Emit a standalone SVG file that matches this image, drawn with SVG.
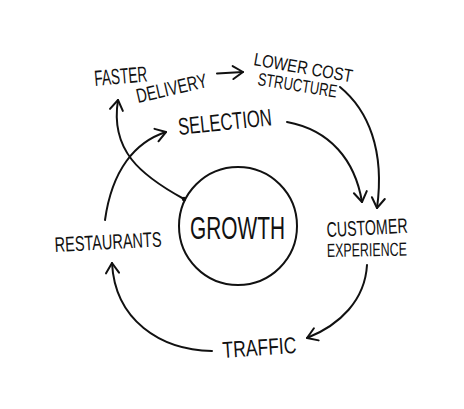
<svg xmlns="http://www.w3.org/2000/svg" width="464" height="409" viewBox="0 0 464 409">
<defs>
<style>
.lbl{font-family:"Liberation Sans",Arial,sans-serif;fill:#111;}
.c{fill:none;stroke:#111;stroke-width:2;stroke-linecap:round;}
</style>
<marker id="ah" viewBox="-12 -8 14 16" markerWidth="14" markerHeight="16" refX="0" refY="0" orient="auto" markerUnits="userSpaceOnUse">
<path d="M-10,-6.5 L0,0 L-10,6.5" fill="none" stroke="#111" stroke-width="2" stroke-linecap="round" stroke-linejoin="round"/>
</marker>
</defs>
<rect width="464" height="409" fill="#fff"/>
<g id="connectors">
<path class="c" d="M184,199 C140,175 110,150 118,100" marker-end="url(#ah)"/>
<circle cx="184" cy="199" r="2.2" fill="#111"/>
<path class="c" d="M105,220 C112,170 135,142 166,132" marker-end="url(#ah)"/>
<path class="c" d="M217,73.5 L243,72" marker-end="url(#ah)"/>
<path class="c" d="M287,122 C330,130 355,160 362,202" marker-end="url(#ah)"/>
<path class="c" d="M340,87 C368,110 385,150 377,208" marker-end="url(#ah)"/>
<path class="c" d="M367,265 C365,300 340,325 307,338" marker-end="url(#ah)"/>
<path class="c" d="M212,351 C160,350 115,320 112,263" marker-end="url(#ah)"/>
</g>
<g id="growth">
<circle cx="238" cy="226" r="59" fill="none" stroke="#111" stroke-width="2"/>
<text class="lbl" x="190" y="239" font-size="32" textLength="95" lengthAdjust="spacingAndGlyphs">GROWTH</text>
</g>
<g id="faster-delivery">
<text class="lbl" x="95" y="86" font-size="22" textLength="53" lengthAdjust="spacingAndGlyphs" transform="rotate(-5 95 86)">FASTER</text>
<text class="lbl" x="138" y="103" font-size="20" textLength="72" lengthAdjust="spacingAndGlyphs" transform="rotate(-13 138 103)">DELIVERY</text>
</g>
<g id="lower-cost">
<text class="lbl" x="253" y="65" font-size="18" textLength="100" lengthAdjust="spacingAndGlyphs" transform="rotate(10 253 65)">LOWER COST</text>
<text class="lbl" x="257" y="85" font-size="18" textLength="80" lengthAdjust="spacingAndGlyphs" transform="rotate(9 257 85)">STRUCTURE</text>
</g>
<g id="selection">
<text class="lbl" x="179" y="135" font-size="24" textLength="94" lengthAdjust="spacingAndGlyphs" transform="rotate(-6 179 135)">SELECTION</text>
</g>
<g id="customer-experience">
<text class="lbl" x="327" y="237" font-size="21" textLength="81" lengthAdjust="spacingAndGlyphs" transform="rotate(-3 327 237)">CUSTOMER</text>
<text class="lbl" x="327" y="257" font-size="19" textLength="80" lengthAdjust="spacingAndGlyphs" transform="rotate(-1 327 257)">EXPERIENCE</text>
</g>
<g id="traffic">
<text class="lbl" x="223" y="358" font-size="23" textLength="74" lengthAdjust="spacingAndGlyphs" transform="rotate(-4 223 358)">TRAFFIC</text>
</g>
<g id="restaurants">
<text class="lbl" x="55" y="252" font-size="21" textLength="107" lengthAdjust="spacingAndGlyphs" transform="rotate(-3 55 252)">RESTAURANTS</text>
</g>
</svg>
